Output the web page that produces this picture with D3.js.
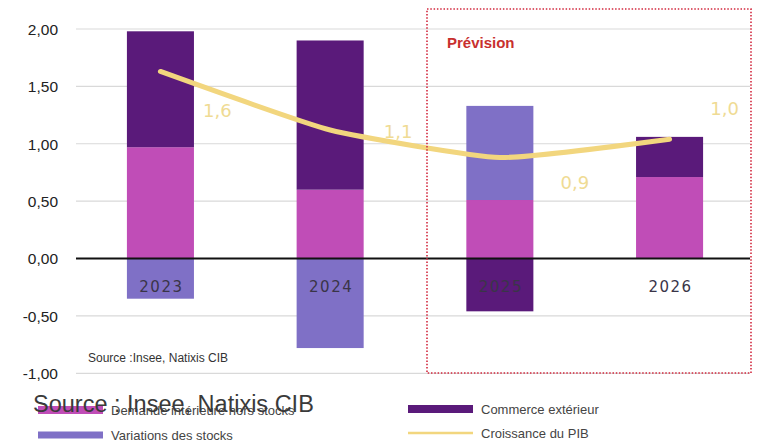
<!DOCTYPE html>
<html><head><meta charset="utf-8">
<script src="https://cdn.jsdelivr.net/npm/d3@7"></script>
<style>body{margin:0;background:#fff}svg{display:block}</style>
</head><body>
<script>
const years = ["2023","2024","2025","2026"];
const demande = [0.97, 0.60, 0.51, 0.71];
const stocks = [-0.35, -0.78, 0.82, 0.0];
const commerce = [1.01, 1.30, -0.46, 0.35];
const pib = [1.63, 1.12, 0.88, 1.04];
const yTicks = [-1, -0.5, 0, 0.5, 1, 1.5, 2];
const seriesNames = ["Demande intérieure hors stocks", "Variations des stocks", "Commerce extérieur", "Croissance du PIB"];
const colors = {demande:"#C04DB7", stocks:"#7F70C6", commerce:"#5A1A7A", pib:"#F2D67E"};
// label offsets (layout)
const labelDx = [57, 68, 75, 55], labelDy = [39, 2, 25, -30];

const W = 760, H = 446;
const svg = d3.select("body").append("svg").attr("width", W).attr("height", H);
const x = d3.scaleBand().domain(years).range([76, 754]).paddingInner(0.605).paddingOuter(0.3);
const y = d3.scaleLinear().domain([-1, 2]).range([373.3, 29]);

// gridlines
svg.append("g").selectAll("line").data(yTicks.filter(d => d !== 0)).join("line")
  .attr("x1", 76).attr("x2", 750).attr("y1", d => y(d)).attr("y2", d => y(d))
  .attr("stroke", "#d9d9d9").attr("stroke-width", 1.2);

// y axis labels
const fmt2 = d => d3.format(".2f")(d).replace(".", ",").replace("−", "-");
const yAxis = d3.axisLeft(y).tickValues(yTicks).tickSize(0).tickPadding(0).tickFormat(fmt2);
svg.append("g").attr("transform", "translate(58,0)").call(yAxis)
  .call(g => g.select(".domain").remove())
  .selectAll("text").attr("font-family", "Liberation Sans, Arial, sans-serif")
  .attr("font-size", 15.5).attr("fill", "#222").attr("dy", "0.35em");

// stacked bars
const rows = years.map((yr, i) => ({year: yr, demande: demande[i], stocks: stocks[i], commerce: commerce[i]}));
const keys = ["demande", "stocks", "commerce"];
const stack = d3.stack().keys(keys).offset(d3.stackOffsetDiverging)(rows);
svg.append("g").selectAll("g").data(stack).join("g").attr("fill", d => colors[d.key])
  .selectAll("rect").data(d => d).join("rect")
  .attr("x", d => x(d.data.year)).attr("width", x.bandwidth())
  .attr("y", d => y(Math.max(d[0], d[1]))).attr("height", d => Math.abs(y(d[0]) - y(d[1])));

// zero line
svg.append("line").attr("x1", 76).attr("x2", 750).attr("y1", y(0)).attr("y2", y(0))
  .attr("stroke", "#111").attr("stroke-width", 2);

// year labels
svg.append("g").selectAll("text").data(years).join("text")
  .attr("x", d => x(d) + x.bandwidth() / 2 + 1).attr("y", y(0) + 33)
  .attr("text-anchor", "middle").attr("font-family", "DejaVu Sans, sans-serif")
  .attr("font-size", 15).attr("letter-spacing", 1.5).attr("fill", "#3a3548").text(d => d);

// PIB line
const cx = i => x(years[i]) + x.bandwidth() / 2;
const line = d3.line().x((d, i) => cx(i)).y(d => y(d)).curve(d3.curveCardinal.tension(0.55));
svg.append("path").datum(pib).attr("d", line).attr("fill", "none")
  .attr("stroke", colors.pib).attr("stroke-width", 5).attr("stroke-linecap", "round");

// PIB labels
svg.append("g").selectAll("text").data(pib).join("text")
  .attr("x", (d, i) => cx(i) + labelDx[i]).attr("y", (d, i) => y(d) + labelDy[i])
  .attr("text-anchor", "middle").attr("dy", "0.35em")
  .attr("font-family", "DejaVu Sans, sans-serif").attr("font-size", 18)
  .attr("fill", "#EFDB94").text(d => d3.format(".1f")(d).replace(".", ","));

// Prévision box
svg.append("rect").attr("x", 427).attr("y", 9).attr("width", 324).attr("height", 364)
  .attr("fill", "none").attr("stroke", "#D2283E").attr("stroke-width", 1.6)
  .attr("stroke-dasharray", "1.5,1.8");
svg.append("text").attr("x", 447).attr("y", 48).text("Prévision")
  .attr("font-family", "Liberation Sans, Arial, sans-serif").attr("font-weight", "bold")
  .attr("font-size", 15).attr("fill", "#C8302E");

// small source
svg.append("text").attr("x", 88).attr("y", 362).text("Source :Insee,  Natixis CIB")
  .attr("font-family", "Liberation Sans, Arial, sans-serif").attr("font-size", 12).attr("fill", "#333");

// legend
const legend = [
  {name: seriesNames[0], color: colors.demande, x: 38, y: 410, h: 8},
  {name: seriesNames[1], color: colors.stocks, x: 38, y: 435, h: 7},
  {name: seriesNames[2], color: colors.commerce, x: 408, y: 409, h: 8},
  {name: seriesNames[3], color: colors.pib, x: 408, y: 433, h: 2.5}
];
const lg = svg.append("g").selectAll("g").data(legend).join("g");
lg.append("rect").attr("x", d => d.x).attr("y", d => d.y - d.h / 2).attr("width", 65).attr("height", d => d.h).attr("fill", d => d.color);
lg.append("text").attr("x", d => d.x + 73).attr("y", d => d.y).attr("dy", "0.35em")
  .attr("font-family", "Liberation Sans, Arial, sans-serif").attr("font-size", 13).attr("fill", "#444").text(d => d.name);

// big source overlapping
svg.append("text").attr("x", 33).attr("y", 412).text("Source : Insee, Natixis CIB")
  .attr("font-family", "Liberation Sans, Arial, sans-serif").attr("font-size", 23.5).attr("fill", "#3a3a3a");
</script>
</body></html>
